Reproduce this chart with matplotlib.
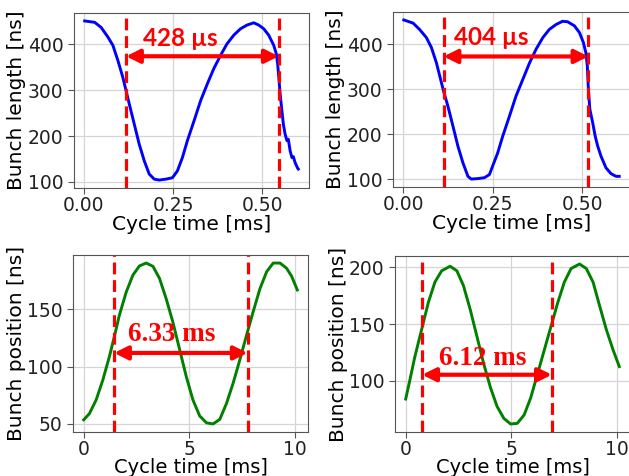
import matplotlib
matplotlib.use("Agg")
import matplotlib.pyplot as plt

# bunch length, top left (time in ms, length in ns)
len_t_a = [0.002, 0.030, 0.048, 0.067, 0.081, 0.095, 0.109, 0.118, 0.127, 0.141, 0.155, 0.169,
           0.183, 0.197, 0.211, 0.230, 0.248, 0.262, 0.276, 0.290, 0.309, 0.327, 0.346, 0.364,
           0.383, 0.401, 0.420, 0.439, 0.457, 0.476, 0.490, 0.504, 0.518, 0.532, 0.539, 0.543,
           0.547, 0.550, 0.555, 0.559, 0.564, 0.569, 0.573, 0.578, 0.583, 0.587, 0.592, 0.599,
           0.601]
len_v_a = [451, 448, 437, 416, 398, 365, 328, 299, 270, 226, 182, 146,
           117, 106, 104, 106, 109, 124, 153, 190, 234, 277, 314, 347,
           376, 401, 420, 434, 442, 447, 442, 434, 420, 398, 380, 358,
           321, 292, 255, 226, 204, 190, 193, 168, 153, 155, 142, 130,
           128]

# bunch length, top right
len_t_b = [0.002, 0.028, 0.046, 0.065, 0.079, 0.093, 0.107, 0.113, 0.125, 0.139, 0.153, 0.167,
           0.181, 0.190, 0.209, 0.227, 0.241, 0.250, 0.264, 0.278, 0.297, 0.315, 0.334, 0.353,
           0.371, 0.390, 0.408, 0.427, 0.445, 0.459, 0.478, 0.492, 0.503, 0.510, 0.514, 0.517,
           0.521, 0.529, 0.536, 0.543, 0.552, 0.566, 0.580, 0.594, 0.603]
len_v_b = [454, 447, 433, 415, 393, 359, 315, 296, 263, 219, 174, 137,
           107, 101, 102, 104, 111, 130, 159, 196, 241, 285, 322, 359,
           389, 415, 433, 444, 451, 450, 441, 426, 404, 381, 352, 300,
           256, 226, 196, 174, 152, 126, 113, 107, 107]

# bunch position, bottom left
pos_t_a = [0.0, 0.27, 0.59, 0.90, 1.22, 1.46, 1.69, 2.01, 2.33, 2.64, 2.96, 3.28, 3.59,
           3.91, 4.22, 4.54, 4.86, 5.17, 5.49, 5.81, 6.12, 6.44, 6.76, 7.07, 7.39, 7.70,
           8.02, 8.34, 8.66, 8.97, 9.29, 9.60, 9.84, 10.11]
pos_v_a = [53.6, 59, 71, 88, 109, 127, 145, 165, 180, 188, 190.5, 187.6, 177,
           159, 139, 115, 91, 71, 57, 51, 50, 54, 68, 85.5, 106, 127,
           148, 168, 183, 190.5, 190.5, 186, 179, 167]

# bunch position, bottom right
pos_t_b = [0.0, 0.19, 0.43, 0.75, 1.07, 1.38, 1.70, 2.10, 2.42, 2.73, 3.05, 3.37, 3.69,
           4.01, 4.32, 4.64, 4.96, 5.28, 5.60, 5.91, 6.23, 6.55, 6.87, 7.19, 7.50, 7.82,
           8.22, 8.54, 8.86, 9.17, 9.49, 9.81, 10.10]
pos_v_b = [84, 100, 121, 145, 169, 187, 197, 201, 197, 184, 163, 139, 115,
           94, 77.5, 67, 62, 62.6, 70, 85, 106, 127, 148, 169, 187, 199,
           203, 199, 187, 166, 145, 127, 112.6]

# period markers: left line, right line, arrow height, text x, text y, label
marks = [
    (0.118, 0.546, 374, 0.270, 412, "428 µs"),
    (0.113, 0.517, 373, 0.246, 416, "404 µs"),
    (1.44, 7.76, 112, 4.18, 128, "6.33 ms"),
    (0.78, 6.91, 105.4, 3.64, 119.5, "6.12 ms"),
]

W, H = 629, 476
fig = plt.figure(figsize=(W / 100, H / 100), dpi=100)

def box(x0, y0, x1, y1):
    return [x0 / W, 1 - y1 / H, (x1 - x0) / W, (y1 - y0) / H]

axes = [
    fig.add_axes(box(74, 13, 309, 188)),
    fig.add_axes(box(393, 12, 630, 187)),
    fig.add_axes(box(73, 255, 308, 432)),
    fig.add_axes(box(395, 256, 630, 432)),
]

series = [(len_t_a, len_v_a, 'b'), (len_t_b, len_v_b, 'b'),
          (pos_t_a, pos_v_a, 'g'), (pos_t_b, pos_v_b, 'g')]

for i, (ax, (t, v, c), m) in enumerate(zip(axes, series, marks)):
    ax.plot(t, v, color=c, lw=2.1)
    ax.grid(True, color='#d5d5d5', lw=0.9)
    ax.set_axisbelow(True)
    for s in ax.spines.values():
        s.set_color('#555555')
    ax.tick_params(labelsize=13.5, colors='#222222', length=4, color='#555555')
    ax.tick_params(axis='x', pad=1.5)
    if i < 2:
        ax.set_xlabel('Cycle time [ms]', fontsize=14.5, labelpad=0)
        ax.set_ylabel('Bunch length [ns]', fontsize=14.5, labelpad=1)
        ax.set_xticks([0.0, 0.25, 0.5])
        ax.set_xticklabels(['0.00', '0.25', '0.50'])
        ax.set_yticks([100, 200, 300, 400])
        fam, fs = 'Lato', 17.5
    else:
        ax.set_xlabel('Cycle time [ms]', fontsize=14, labelpad=-0.5)
        ax.set_ylabel('Bunch position [ns]', fontsize=14.5, labelpad=1)
        ax.set_xticks([0, 5, 10])
        fam, fs = 'Liberation Serif', 19.5
    if i == 2:
        ax.set_yticks([50, 100, 150])
    if i == 3:
        ax.set_yticks([100, 150, 200])
    xl, xr, ya, tx, ty, lab = m
    ax.axvline(xl, color='r', ls='--', lw=2.3, dashes=(3.7, 1.8))
    ax.axvline(xr, color='r', ls='--', lw=2.3, dashes=(3.7, 1.8))
    ax.annotate('', xy=(xl, ya), xytext=(xr, ya),
                arrowprops=dict(arrowstyle='<|-|>', color='r', lw=3,
                                mutation_scale=20, shrinkA=0, shrinkB=0))
    ax.text(tx, ty, lab, color='r', fontsize=fs, fontweight='bold',
            family=fam, ha='center', va='center')

fig.savefig('out.png', dpi=100)
